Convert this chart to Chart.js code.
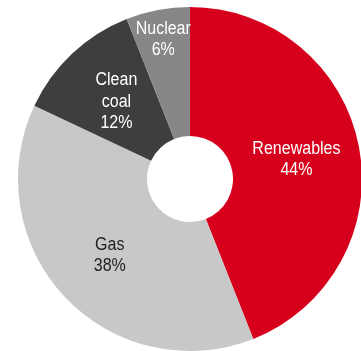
<!DOCTYPE html>
<html>
<head>
<meta charset="utf-8">
<script src="https://cdn.jsdelivr.net/npm/chart.js@4/dist/chart.umd.min.js"></script>
<style>
  html, body { margin:0; padding:0; background:#fff; overflow:hidden; width:361px; height:351px; }
  #wrap { position:absolute; left:18px; top:7px; width:344px; height:344px; }
</style>
</head>
<body>
<div id="wrap"><canvas id="pie"></canvas></div>
<script>
// data
const categories = ['Renewables', 'Gas', 'Clean coal', 'Nuclear'];
const shares     = [44, 38, 12, 6];
const colours    = ['#d6001c', '#c8c8c8', '#3e3e3e', '#878787'];
const textColours = ['#ffffff', '#1e1e1e', '#ffffff', '#ffffff'];
// label lines ("Clean coal" breaks in two)
const labelLines = [['Renewables'], ['Gas'], ['Clean', 'coal'], ['Nuclear']];
// how far out each label sits, as a share of the outer radius
const labelRadius = [0.63, 0.64, 0.625, 0.83];

const sliceLabels = {
  id: 'sliceLabels',
  afterDatasetsDraw(chart) {
    const ctx = chart.ctx;
    const meta = chart.getDatasetMeta(0);
    ctx.save();
    ctx.font = '18px "Liberation Sans", Arial, sans-serif';
    ctx.textAlign = 'center';
    ctx.textBaseline = 'middle';
    const lh = 21.5;
    meta.data.forEach((arc, i) => {
      const p = arc.getProps(['x', 'y', 'startAngle', 'endAngle', 'outerRadius']);
      const mid = (p.startAngle + p.endAngle) / 2;
      const r = p.outerRadius * labelRadius[i];
      const cx = p.x + Math.cos(mid) * r;
      const cy = p.y + Math.sin(mid) * r;
      const lines = labelLines[i].concat([shares[i] + '%']);
      const top = cy - (lines.length - 1) * lh / 2 + 1;
      ctx.fillStyle = textColours[i];
      lines.forEach((t, k) => {
        // the source font is a narrow sans, so squeeze it a little
        ctx.save();
        ctx.translate(cx, top + k * lh);
        ctx.scale(0.89, 1);
        ctx.fillText(t, 0, 0);
        ctx.restore();
      });
    });
    ctx.restore();
  }
};

new Chart(document.getElementById('pie'), {
  type: 'doughnut',
  data: {
    labels: categories,
    datasets: [{ data: shares, backgroundColor: colours, borderWidth: 0, hoverOffset: 0 }]
  },
  options: {
    responsive: true,
    maintainAspectRatio: false,
    devicePixelRatio: 1,
    animation: false,
    cutout: '25%',
    layout: { padding: 0 },
    plugins: { legend: { display: false }, tooltip: { enabled: false } }
  },
  plugins: [sliceLabels]
});
</script>
</body>
</html>
